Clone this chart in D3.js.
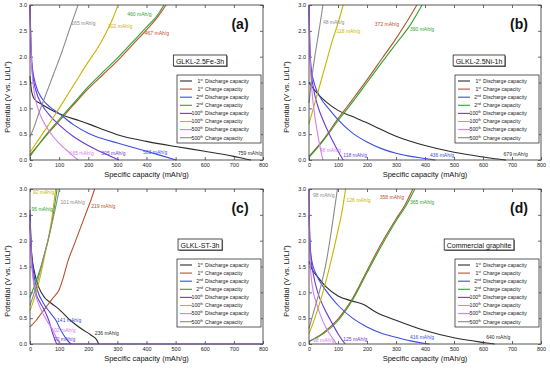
<!DOCTYPE html>
<html>
<head>
<meta charset="utf-8">
<script src="https://cdn.jsdelivr.net/npm/d3@7"></script>
<style>
  body { margin: 0; background: #fff; }
  text { font-family: "Liberation Sans", Arial, sans-serif; }
</style>
</head>
<body>
<svg id="chart" width="550" height="368"></svg>
<script>
// series order in every panel:
// 1st dis, 1st chg, 2nd dis, 2nd chg, 100th dis, 100th chg, 500th dis, 500th chg
const seriesColors = ["#2b2b2b", "#b8502c", "#3a4fe6", "#2ea52e", "#6b3ad8", "#c8b400", "#d47cf2", "#8a8a8a"];
const legendNum = ["1", "1", "2", "2", "100", "100", "500", "500"];
const legendSup = ["st", "st", "nd", "nd", "th", "th", "th", "th"];
const legendText = ["Discharge capacity", "Charge capacity", "Discharge capacity", "Charge capacity",
                    "Discharge capacity", "Charge capacity", "Discharge capacity", "Charge capacity"];

const xTicks = [0, 100, 200, 300, 400, 500, 600, 700, 800];
const yTicks = [0, 0.5, 1.0, 1.5, 2.0, 2.5, 3.0];

const panelLetters = ["(a)", "(b)", "(c)", "(d)"];
const panelNames = ["GLKL-2.5Fe-3h", "GLKL-2.5Ni-1h", "GLKL-ST-3h", "Commercial graphite"];

// (a) GLKL-2.5Fe-3h
const fe_d1 = [[0,1.62],[5,1.35],[15,1.18],[40,1.08],[80,0.95],[120,0.85],[170,0.76],[210,0.68],[260,0.57],[300,0.49],[400,0.36],[500,0.26],[600,0.17],[700,0.07],[740,0.02],[759,0]];
const fe_c1 = [[0,0.1],[30,0.3],[60,0.5],[100,0.75],[150,1.07],[200,1.38],[250,1.65],[300,1.92],[350,2.22],[400,2.52],[440,2.78],[467,3.0]];
const fe_d2 = [[0,3.0],[3,2.3],[8,1.8],[20,1.45],[40,1.2],[70,1.02],[100,0.9],[150,0.68],[200,0.52],[250,0.41],[300,0.33],[400,0.17],[460,0.07],[503,0]];
const fe_c2 = [[0,0.07],[30,0.3],[60,0.52],[100,0.78],[150,1.1],[200,1.42],[250,1.7],[300,1.97],[350,2.27],[400,2.57],[440,2.82],[460,3.0]];
const fe_d100 = [[0,3.0],[3,2.2],[8,1.7],[20,1.35],[40,1.08],[70,0.85],[100,0.68],[150,0.45],[200,0.28],[250,0.14],[290,0.04],[305,0]];
const fe_c100 = [[0,0.15],[30,0.4],[60,0.65],[100,1.0],[150,1.45],[200,1.9],[230,2.15],[260,2.45],[285,2.75],[302,3.0]];
const fe_d500 = [[0,3.0],[2,2.4],[6,1.8],[15,1.3],[30,0.95],[50,0.7],[80,0.45],[110,0.27],[140,0.12],[165,0]];
const fe_c500 = [[0,0.45],[15,0.65],[30,0.9],[50,1.2],[80,1.65],[110,2.1],[140,2.6],[165,3.0]];
const feCaps = [759, 467, 503, 460, 305, 302, 165, 165];
const feCapAt = [[714,0.12],[394,2.45],[388,0.15],[334,2.81],[245,0.12],[268,2.58],[136,0.12],[142,2.63]];

// (b) GLKL-2.5Ni-1h
const ni_d1 = [[0,1.5],[10,1.42],[30,1.28],[60,1.12],[100,0.96],[150,0.84],[200,0.72],[230,0.64],[300,0.46],[400,0.28],[500,0.15],[600,0.06],[650,0.02],[679,0]];
const ni_c1 = [[0,0.07],[50,0.4],[100,0.8],[150,1.17],[200,1.55],[250,1.95],[300,2.35],[340,2.7],[372,3.0]];
const ni_d2 = [[0,3.0],[3,2.2],[8,1.75],[20,1.45],[40,1.2],[70,0.98],[100,0.78],[150,0.52],[200,0.35],[250,0.22],[300,0.13],[350,0.07],[400,0.03],[436,0]];
const ni_c2 = [[0,0.05],[50,0.38],[100,0.76],[150,1.12],[200,1.5],[250,1.88],[300,2.25],[350,2.62],[390,3.0]];
const ni_d100 = [[0,3.0],[2,2.3],[6,1.8],[15,1.4],[30,1.05],[50,0.75],[70,0.5],[90,0.28],[105,0.12],[118,0]];
const ni_c100 = [[0,0.7],[20,1.1],[40,1.5],[60,1.9],[80,2.3],[100,2.65],[118,3.0]];
const ni_d500 = [[0,3.0],[2,2.3],[5,1.8],[10,1.35],[20,0.85],[30,0.5],[40,0.2],[48,0]];
const ni_c500 = [[0,1.1],[10,1.6],[20,2.0],[30,2.35],[40,2.7],[48,3.0]];
const niCaps = [679, 372, 436, 390, 118, 118, 48, 48];
const niCapAt = [[671,0.1],[227,2.61],[417,0.08],[348,2.53],[118,0.08],[95,2.49],[37,0.19],[48,2.66]];

// (c) GLKL-ST-3h
const st_d1 = [[0,2.3],[5,1.8],[15,1.4],[30,1.1],[50,0.9],[75,0.78],[100,0.67],[140,0.45],[180,0.28],[210,0.17],[229,0.08],[236,0]];
const st_c1 = [[0,0.33],[20,0.45],[40,0.6],[60,0.75],[80,0.9],[100,1.05],[115,1.3],[130,1.6],[150,1.9],[170,2.2],[190,2.5],[210,2.8],[222,3.0]];
const st_d2 = [[0,2.5],[5,1.8],[12,1.4],[25,1.05],[45,0.8],[70,0.6],[90,0.45],[100,0.33],[115,0.18],[130,0.06],[141,0]];
const st_c2 = [[0,0.9],[10,1.05],[20,1.2],[35,1.45],[50,1.75],[62,2.0],[75,2.35],[85,2.7],[93,3.0]];
const st_d100 = [[0,2.6],[4,1.8],[10,1.35],[20,1.0],[35,0.8],[50,0.65],[65,0.45],[78,0.2],[88,0.05],[92,0],[800,0]];
const st_c100 = [[0,0.65],[10,0.8],[20,0.98],[35,1.3],[50,1.7],[65,2.1],[78,2.55],[88,3.0]];
const st_d500 = [[0,2.4],[4,1.7],[10,1.3],[20,0.95],[35,0.7],[55,0.48],[75,0.3],[90,0.13],[102,0]];
const st_c500 = [[0,0.75],[15,1.0],[30,1.3],[50,1.75],[70,2.2],[88,2.65],[101,3.0]];
const stCaps = [236, 219, 141, 95, 92, 92, 102, 101];
const stCapAt = [[222,0.2],[210,2.65],[93,0.46],[5,2.6],[82,0.08],[10,2.92],[73,0.26],[105,2.73]];

// (d) Commercial graphite
const cg_d1 = [[0,1.6],[10,1.45],[30,1.3],[60,1.1],[100,0.93],[150,0.83],[190,0.76],[230,0.62],[300,0.46],[400,0.26],[500,0.12],[600,0.03],[640,0]];
const cg_c1 = [[0,0.05],[50,0.22],[100,0.48],[150,0.88],[200,1.42],[250,1.95],[300,2.42],[330,2.68],[358,3.0]];
const cg_d2 = [[0,2.5],[4,1.9],[10,1.6],[25,1.35],[50,1.1],[80,0.88],[100,0.75],[150,0.5],[200,0.33],[250,0.21],[300,0.13],[350,0.06],[400,0.01],[416,0]];
const cg_c2 = [[0,0.05],[50,0.2],[100,0.45],[150,0.85],[200,1.38],[250,1.9],[300,2.38],[335,2.68],[365,3.0]];
const cg_d100 = [[0,3.0],[2,2.2],[6,1.7],[15,1.35],[30,1.0],[50,0.72],[75,0.45],[100,0.2],[115,0.07],[125,0]];
const cg_c100 = [[0,0.2],[20,0.5],[40,0.85],[60,1.25],[80,1.7],[100,2.2],[115,2.6],[126,3.0]];
const cg_d500 = [[0,3.0],[2,2.0],[5,1.5],[12,1.1],[25,0.8],[40,0.55],[60,0.3],[80,0.12],[95,0]];
const cg_c500 = [[0,0.3],[20,0.7],[40,1.1],[60,1.6],[80,2.3],[98,3.0]];
const cgCaps = [640, 358, 416, 365, 125, 126, 98, 98];
const cgCapAt = [[611,0.12],[244,2.84],[348,0.12],[348,2.74],[118,0.08],[129,2.78],[14,0.07],[14,2.87]];

const panelCurves = [
  [fe_d1, fe_c1, fe_d2, fe_c2, fe_d100, fe_c100, fe_d500, fe_c500],
  [ni_d1, ni_c1, ni_d2, ni_c2, ni_d100, ni_c100, ni_d500, ni_c500],
  [st_d1, st_c1, st_d2, st_c2, st_d100, st_c100, st_d500, st_c500],
  [cg_d1, cg_c1, cg_d2, cg_c2, cg_d100, cg_c100, cg_d500, cg_c500]
];
const panelCaps = [feCaps, niCaps, stCaps, cgCaps];
const panelCapAt = [feCapAt, niCapAt, stCapAt, cgCapAt];

// layout of the four plot frames
const frames = [
  {x: 30, y: 5, w: 233, h: 155},
  {x: 309, y: 5, w: 232, h: 155},
  {x: 30, y: 189, w: 233, h: 155},
  {x: 309, y: 189, w: 232, h: 155}
];

const svg = d3.select("#chart");

frames.forEach((f, p) => {
  const g = svg.append("g").attr("transform", `translate(${f.x},${f.y})`);
  const x = d3.scaleLinear().domain([0, 800]).range([0, f.w]);
  const y = d3.scaleLinear().domain([0, 3]).range([f.h, 0]);

  const defsId = "clip" + p;
  g.append("clipPath").attr("id", defsId)
    .append("rect").attr("x", -1).attr("y", -1).attr("width", f.w + 2).attr("height", f.h + 2);

  // axes, ticks inward
  const bottom = g.append("g").attr("transform", `translate(0,${f.h})`)
    .call(d3.axisBottom(x).tickValues(xTicks).tickSize(-3).tickPadding(3).tickFormat(d3.format("d")));
  const top = g.append("g").call(d3.axisTop(x).tickValues(xTicks).tickSize(-3).tickFormat(""));
  const left = g.append("g")
    .call(d3.axisLeft(y).tickValues(yTicks).tickSize(-3).tickPadding(3).tickFormat(d3.format(".1f")));
  const right = g.append("g").attr("transform", `translate(${f.w},0)`)
    .call(d3.axisRight(y).tickValues(yTicks).tickSize(-3).tickFormat(""));
  [bottom, top, left, right].forEach(a => {
    a.select(".domain").remove();
    a.selectAll("line").attr("stroke", "#444").attr("stroke-width", 0.8);
    a.selectAll("text").attr("font-size", 5.5).attr("fill", "#222")
      .style("font-family", '"Liberation Sans", Arial, sans-serif');
  });

  // curves
  const line = d3.line().x(d => x(d[0])).y(d => y(d[1])).curve(d3.curveMonotoneX);
  g.append("g").attr("clip-path", `url(#${defsId})`)
    .selectAll("path").data(panelCurves[p]).enter()
    .append("path")
    .attr("d", line)
    .attr("fill", "none")
    .attr("stroke", (d, i) => seriesColors[i])
    .attr("stroke-width", 1.1);

  // frame
  g.append("rect").attr("width", f.w).attr("height", f.h)
    .attr("fill", "none").attr("stroke", "#444").attr("stroke-width", 0.9);

  // capacity annotations
  g.selectAll("text.cap").data(panelCaps[p]).enter()
    .append("text").attr("class", "cap")
    .attr("x", (d, i) => x(panelCapAt[p][i][0]))
    .attr("y", (d, i) => y(panelCapAt[p][i][1]))
    .attr("dominant-baseline", "middle")
    .attr("font-size", 5)
    .attr("fill", (d, i) => seriesColors[i])
    .text(d => d + " mAh/g");

  // panel letter
  g.append("text").attr("x", 210).attr("y", 24).attr("text-anchor", "middle")
    .attr("font-size", 14).attr("font-weight", "bold").attr("fill", "#111")
    .text(panelLetters[p]);

  // sample name box
  const nb = g.append("g");
  const nt = nb.append("text").attr("x", 170).attr("y", 58.5).attr("text-anchor", "middle")
    .attr("font-size", 7).attr("fill", "#111").text(panelNames[p]);
  const bb = nt.node().getBBox();
  nb.insert("rect", "text").attr("x", bb.x - 2.5 + 1).attr("y", 50 + 1)
    .attr("width", bb.width + 5).attr("height", 11).attr("fill", "#777");
  nb.insert("rect", "text").attr("x", bb.x - 2.5).attr("y", 50)
    .attr("width", bb.width + 5).attr("height", 11)
    .attr("fill", "#fff").attr("stroke", "#222").attr("stroke-width", 0.8);

  // legend
  const lx = f.w - 86, ly = 70;
  const lg = g.append("g").attr("transform", `translate(${lx},${ly})`);
  lg.append("rect").attr("width", 84).attr("height", 68)
    .attr("fill", "#fff").attr("stroke", "#333").attr("stroke-width", 0.8);
  seriesColors.forEach((c, i) => {
    const ry = 6 + i * 8.1;
    lg.append("line").attr("x1", 3).attr("x2", 15).attr("y1", ry).attr("y2", ry)
      .attr("stroke", c).attr("stroke-width", 1.1);
    const t = lg.append("text").attr("x", 26).attr("y", ry + 1.8).attr("text-anchor", "end")
      .attr("font-size", 5.2).attr("fill", "#222");
    t.append("tspan").text(legendNum[i]);
    t.append("tspan").attr("font-size", 3.4).attr("dy", -2).text(legendSup[i]);
    lg.append("text").attr("x", 28).attr("y", ry + 1.8)
      .attr("font-size", 5.2).attr("fill", "#222").text(legendText[i]);
  });

  // axis titles
  g.append("text").attr("x", f.w / 2).attr("y", f.h + 17).attr("text-anchor", "middle")
    .attr("font-size", 7.5).attr("fill", "#111").text("Specific capacity (mAh/g)");
  const yt = g.append("text").attr("transform", `translate(-20,${92}) rotate(-90)`)
    .attr("text-anchor", "middle").attr("font-size", 7.5).attr("fill", "#111");
  yt.append("tspan").text("Potential (V vs. Li/Li");
  yt.append("tspan").attr("font-size", 5).attr("dy", -3).text("+");
  yt.append("tspan").attr("dy", 3).text(")");
});
</script>
</body>
</html>
